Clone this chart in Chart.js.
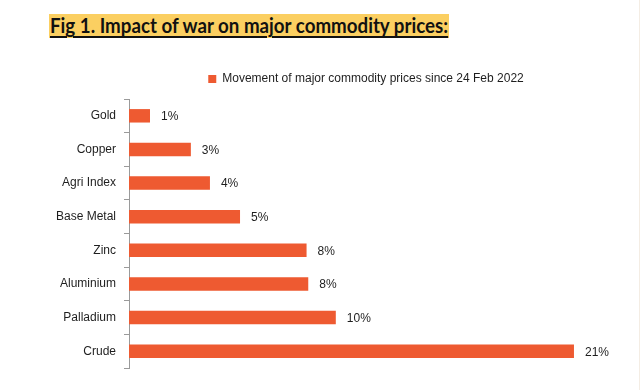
<!DOCTYPE html>
<html>
<head>
<meta charset="utf-8">
<title>Impact of war on major commodity prices</title>
<script src="https://cdn.jsdelivr.net/npm/chart.js@4.4.0/dist/chart.umd.min.js"></script>
<style>
  html, body { margin: 0; padding: 0; background: #fff; }
  body { width: 640px; height: 390px; position: relative; overflow: hidden; }
  #chartBox { position: absolute; left: 0; top: 0; width: 640px; height: 390px; }
  #titleBg { position: absolute; left: 49px; top: 14px; width: 400px; height: 24px; background: #fbcf61; }
  #title {
    position: absolute; left: 50px; top: 13px; white-space: nowrap;
    font: bold 20px Lato, "Open Sans", sans-serif; color: #111;
    text-decoration: underline; text-decoration-thickness: 2px; text-underline-offset: 3px;
    transform-origin: 0 0;
  }
  #edge { position: absolute; right: 0; top: 0; width: 1px; height: 390px; background: #f4ede4; }
</style>
</head>
<body>
<div id="titleBg"></div>
<div id="title">Fig 1. Impact of war on major commodity prices:</div>
<div id="chartBox"><canvas id="chart" width="640" height="390"></canvas></div>
<div id="edge"></div>
<script>
// data
const commodities = ['Gold', 'Copper', 'Agri Index', 'Base Metal', 'Zinc', 'Aluminium', 'Palladium', 'Crude'];
const moveSince24Feb = [0.99, 2.92, 3.82, 5.24, 8.38, 8.46, 9.76, 21.0];
const seriesName = 'Movement of major commodity prices since 24 Feb 2022';

const barColor = '#ee5a31';
const textColor = '#1e1e1e';

// title: squeeze to the width of the original Calibri text
const titleEl = document.getElementById('title');
titleEl.style.transform = 'scaleX(' + (398 / titleEl.offsetWidth) + ')';

// the chart text is a narrow Arial-like face
function hasFont(name) {
  const c = document.createElement('canvas').getContext('2d');
  c.font = '20px monospace';
  const w0 = c.measureText('Aluminium Palladium').width;
  c.font = '20px "' + name + '", monospace';
  return c.measureText('Aluminium Palladium').width !== w0;
}
const narrow = hasFont('Liberation Sans Narrow');
const family = narrow ? '"Liberation Sans Narrow", "Liberation Sans", Arial, sans-serif'
                      : '"Liberation Sans", Arial, sans-serif';
const size = narrow ? 14 : 12;

// value labels at the end of each bar
const valueLabels = {
  id: 'valueLabels',
  afterDatasetsDraw(chart) {
    const ctx = chart.ctx;
    const meta = chart.getDatasetMeta(0);
    ctx.save();
    ctx.font = size + 'px ' + family;
    ctx.fillStyle = textColor;
    ctx.textAlign = 'left';
    ctx.textBaseline = 'middle';
    meta.data.forEach((bar, i) => {
      ctx.fillText(Math.round(moveSince24Feb[i]) + '%', bar.x + 11, bar.y + 1);
    });
    ctx.restore();
  }
};

const ctx = document.getElementById('chart').getContext('2d');
const myChart = new Chart(ctx, {
  type: 'bar',
  data: {
    labels: commodities,
    datasets: [{
      label: seriesName,
      data: moveSince24Feb,
      backgroundColor: barColor,
      borderWidth: 0,
      barPercentage: 0.4,
      categoryPercentage: 1.0
    }]
  },
  options: {
    indexAxis: 'y',
    responsive: false,
    animation: false,
    devicePixelRatio: 1,
    layout: { padding: { top: 59, right: 37, bottom: 22, left: 0 } },
    plugins: {
      legend: {
        position: 'top',
        fullSize: false,
        labels: {
          boxWidth: 8,
          boxHeight: 8,
          padding: 14,
          color: textColor,
          font: { family: family, size: size }
        }
      },
      tooltip: { enabled: false }
    },
    scales: {
      x: {
        // value axis is hidden in the original; kept only as a small gap under the legend
        position: 'top',
        min: 0,
        max: 22.37,
        afterFit(scale) { scale.height = 4; },
        grid: { display: false },
        border: { display: false },
        ticks: { display: false }
      },
      y: {
        afterFit(scale) { scale.width = 129; },
        grid: {
          drawOnChartArea: false,
          drawTicks: true,
          tickLength: 5,
          color: '#9a9a9a'
        },
        border: { display: true, color: '#9a9a9a', width: 1 },
        ticks: {
          padding: 8,
          color: textColor,
          font: { family: family, size: size }
        }
      }
    }
  },
  plugins: [valueLabels]
});
</script>
</body>
</html>
